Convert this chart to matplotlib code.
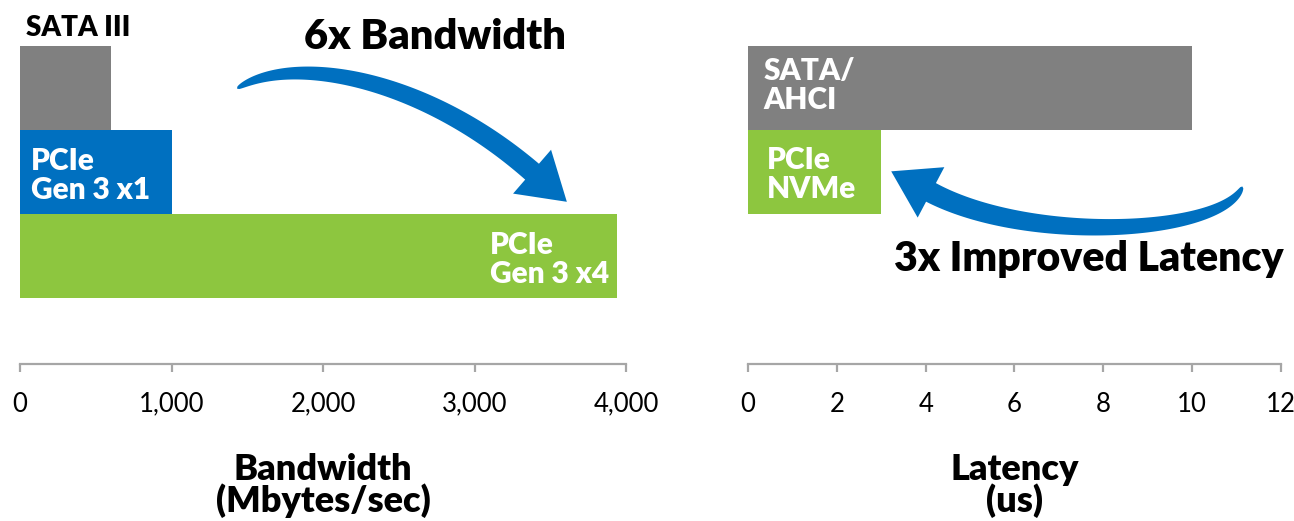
import numpy as np
import matplotlib
matplotlib.use("Agg")
import matplotlib.pyplot as plt
from matplotlib.patches import Polygon

plt.rcParams['font.family'] = ['Lato', 'DejaVu Sans']

# ---- data ----
bw_labels = ["PCIe\nGen 3 x4", "PCIe\nGen 3 x1", "SATA III"]
bw_values = [3940, 1000, 600]           # Mbytes/sec
bw_colors = ["#8DC63F", "#0070C0", "#808080"]
bw_ticks = [0, 1000, 2000, 3000, 4000]

lat_labels = ["PCIe\nNVMe", "SATA/\nAHCI"]
lat_values = [3, 10]                    # microseconds
lat_colors = ["#8DC63F", "#808080"]
lat_ticks = [0, 2, 4, 6, 8, 10, 12]

AXIS_GRAY = "#A6A6A6"
ARROW_BLUE = "#0070C0"
BOLD = "heavy"

W, H = 1294, 521
fig = plt.figure(figsize=(W / 100, H / 100), dpi=100)

bottom = (H - 364) / H
height = (364 - 46) / H
ax_bw = fig.add_axes([20 / W, bottom, 606 / W, height])
ax_lat = fig.add_axes([748 / W, bottom, 533 / W, height])


def style_axis(ax, ticks, fmt):
    for s in ("top", "left", "right"):
        ax.spines[s].set_visible(False)
    ax.spines["bottom"].set_color(AXIS_GRAY)
    ax.spines["bottom"].set_linewidth(1.6)
    ax.set_yticks([])
    ax.set_xticks(ticks)
    ax.set_xticklabels([fmt(t) for t in ticks])
    ax.tick_params(axis="x", direction="out", length=6, width=1.6,
                   color=AXIS_GRAY, labelsize=18.5, pad=14)
    ax.set_xlim(ticks[0], ticks[-1])
    ax.set_ylim(-0.78, 3)
    ax.patch.set_visible(False)


# ---- bandwidth panel ----
ypos_bw = np.arange(len(bw_values))
ax_bw.barh(ypos_bw, bw_values, height=1.0, align="edge", color=bw_colors)
style_axis(ax_bw, bw_ticks, lambda v: f"{v:,}")
ax_bw.set_xlabel("Bandwidth\n(Mbytes/sec)", fontsize=26, fontweight=BOLD,
                 labelpad=26, linespacing=0.92)

ax_bw.text(40, ypos_bw[2] + 1.12, bw_labels[2], fontsize=20, fontweight=BOLD,
           color="black", ha="left", va="baseline")
ax_bw.text(73, ypos_bw[1] + 0.46, bw_labels[1], fontsize=21.5, fontweight=BOLD,
           color="white", ha="left", va="center", linespacing=1.05)
ax_bw.text(3100, ypos_bw[0] + 0.46, bw_labels[0], fontsize=21.5, fontweight=BOLD,
           color="white", ha="left", va="center", linespacing=1.05)
ax_bw.text(2740, 2.96, "6x Bandwidth", fontsize=30, fontweight=BOLD,
           ha="center", va="baseline", clip_on=False)

# ---- latency panel ----
ypos_lat = np.arange(len(lat_values)) + 1
ax_lat.barh(ypos_lat, lat_values, height=1.0, align="edge", color=lat_colors)
style_axis(ax_lat, lat_ticks, lambda v: f"{v}")
ax_lat.set_xlabel("Latency\n(us)", fontsize=26, fontweight=BOLD,
                  labelpad=26, linespacing=0.92)

ax_lat.text(0.34, ypos_lat[1] + 0.53, lat_labels[1], fontsize=21.5, fontweight=BOLD,
            color="white", ha="left", va="center", linespacing=1.05)
ax_lat.text(0.43, ypos_lat[0] + 0.47, lat_labels[0], fontsize=21.5, fontweight=BOLD,
            color="white", ha="left", va="center", linespacing=1.05)
ax_lat.text(7.68, 0.32, "3x Improved Latency", fontsize=29.5, fontweight=BOLD,
            ha="center", va="baseline", clip_on=False)


# ---- curved tapering arrows ----
def curved_arrow(ax, pts, max_w=21, head_w=58, head_len=46, color=ARROW_BLUE):
    """Cubic Bezier band that tapers from a point, ending in a triangular head.
    pts are four control points in data coordinates of ax."""
    disp = ax.transData.transform(np.asarray(pts, dtype=float))
    p0, p1, p2, p3 = disp
    t = np.linspace(0, 1, 120)[:, None]
    curve = ((1 - t) ** 3) * p0 + 3 * ((1 - t) ** 2) * t * p1 \
        + 3 * (1 - t) * t ** 2 * p2 + t ** 3 * p3
    deriv = 3 * ((1 - t) ** 2) * (p1 - p0) + 6 * (1 - t) * t * (p2 - p1) \
        + 3 * t ** 2 * (p3 - p2)
    tang = deriv / np.linalg.norm(deriv, axis=1, keepdims=True)
    normal = np.column_stack([-tang[:, 1], tang[:, 0]])
    w = max_w * (t[:, 0] ** 0.4)
    side_a = curve + normal * (w[:, None] / 2)
    side_b = curve - normal * (w[:, None] / 2)
    d_end = tang[-1]
    n_end = normal[-1]
    base = curve[-1]
    head = [base + n_end * head_w / 2, base + d_end * head_len, base - n_end * head_w / 2]
    poly = np.vstack([side_a, head, side_b[::-1]])
    poly_fig = fig.transFigure.inverted().transform(poly)
    fig.patches.append(Polygon(poly_fig, closed=True, transform=fig.transFigure,
                               facecolor=color, edgecolor="none", zorder=5))


# bandwidth arrow: from above the x1 bar sweeping down to the x4 bar
curved_arrow(ax_bw, [(1432, 2.494), (1782, 2.90), (2640, 2.66), (3380, 1.506)])
# latency arrow: from the right, dipping down, pointing back at the NVMe bar
curved_arrow(ax_lat, [(11.13, 1.33), (10.73, 0.76), (6.34, 0.64), (4.12, 1.26)],
             head_w=57, head_len=45)

fig.savefig("out.png", dpi=100)
